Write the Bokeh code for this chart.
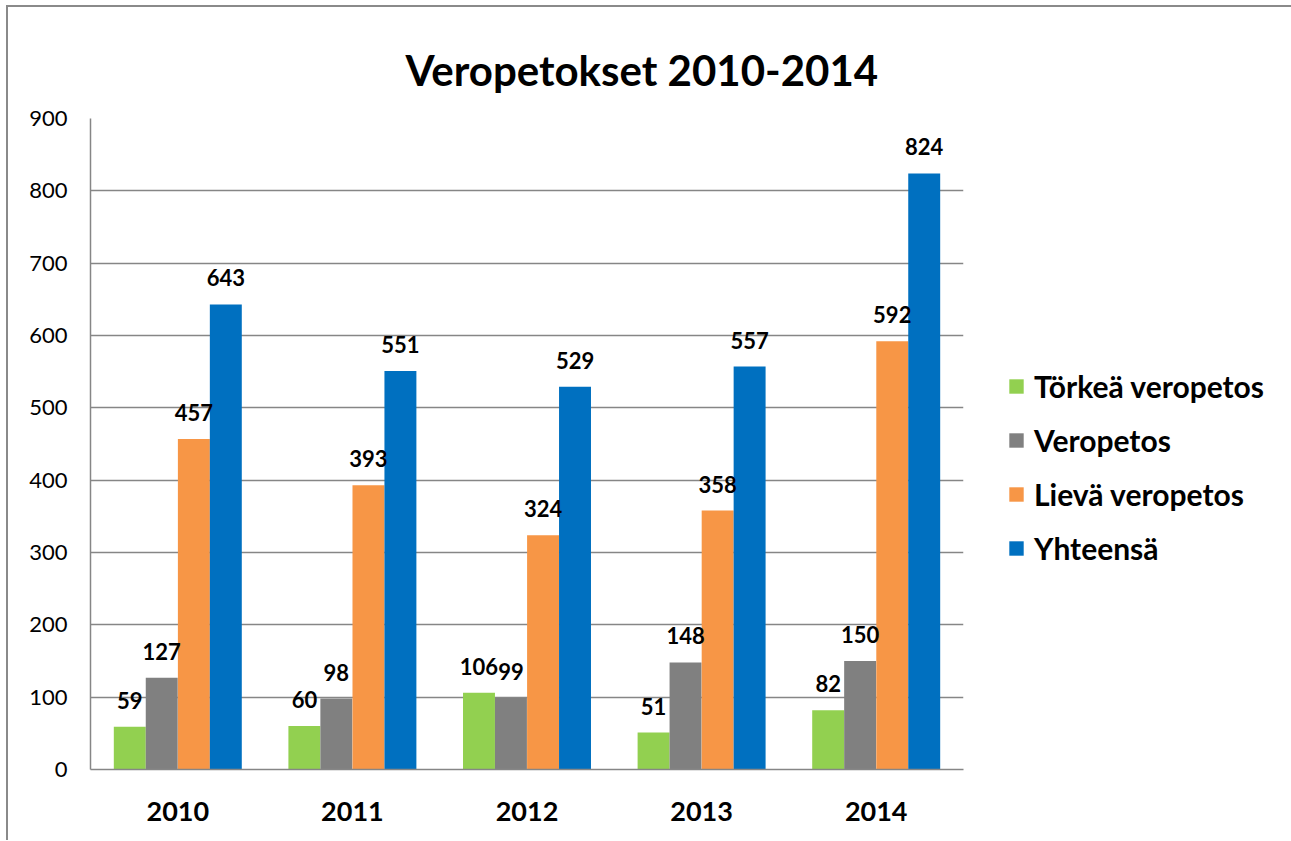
from bokeh.plotting import figure
from bokeh.models import FactorRange, ColumnDataSource, LabelSet, Legend, LegendItem, Title, SingleIntervalTicker
from bokeh.transform import dodge
from bokeh.core.properties import value
from bokeh.embed import file_html
from bokeh.resources import INLINE

years = ["2010", "2011", "2012", "2013", "2014"]
torkea = [59, 60, 106, 51, 82]
veropetos = [127, 98, 99, 148, 150]
lieva = [457, 393, 324, 358, 592]
yhteensa = [643, 551, 529, 557, 824]
series_names = ["Törkeä veropetos", "Veropetos", "Lievä veropetos", "Yhteensä"]
colors = ["#92D050", "#808080", "#F79646", "#0070C0"]
title_text = "Veropetokset 2010-2014"

FONT = "Lato"

src = ColumnDataSource(dict(years=years, s0=torkea, s1=veropetos, s2=lieva, s3=yhteensa,
                            l0=[str(v) for v in torkea], l1=[str(v) for v in veropetos],
                            l2=[str(v) for v in lieva], l3=[str(v) for v in yhteensa]))

p = figure(x_range=FactorRange(factors=years, range_padding=0), y_range=(0, 900),
           frame_width=873, frame_height=651, output_backend="svg", toolbar_location=None,
           min_border_left=82, min_border_right=328, min_border_top=0, min_border_bottom=71)
p.styles = {"margin-left": "6px", "margin-top": "5px",
            "border-left": "2px solid #8a8a8a", "border-top": "2px solid #8a8a8a"}
p.outline_line_color = None
p.background_fill_color = "white"

bw = 0.183
offs = [-0.275, -0.092, 0.092, 0.275]
items = []
for i in range(4):
    r = p.vbar(x=dodge("years", offs[i], range=p.x_range), top="s%d" % i, width=bw,
               source=src, fill_color=colors[i], line_color=None)
    items.append(LegendItem(label=series_names[i], renderers=[r]))
    lbl = LabelSet(x=dodge("years", offs[i], range=p.x_range), y="s%d" % i, text="l%d" % i,
                   source=src, text_align="center", text_baseline="alphabetic", y_offset=18,
                   text_font=value(FONT), text_font_style="bold", text_font_size="22px",
                   text_color="black")
    p.add_layout(lbl)

title = Title(text=title_text, align="left", offset=315, text_font=FONT,
              text_font_size="42px", text_font_style="bold", text_color="black",
              standoff=47)
try:
    title.padding = dict(left=0, right=0, top=12, bottom=0)
except Exception:
    title.standoff = 59
p.add_layout(title, "above")

p.yaxis.ticker = SingleIntervalTicker(interval=100)
p.yaxis.axis_line_color = "#868686"
p.yaxis.axis_line_width = 1.5
p.yaxis.major_tick_line_color = None
p.yaxis.minor_tick_line_color = None
p.yaxis.major_label_text_font = FONT
p.yaxis.major_label_text_font_size = "22px"
p.yaxis.major_label_text_color = "black"
p.yaxis.major_label_standoff = 17

p.xaxis.axis_line_color = "#868686"
p.xaxis.axis_line_width = 1.5
p.xaxis.major_tick_line_color = None
p.xaxis.minor_tick_line_color = None
p.xaxis.major_label_text_font = FONT
p.xaxis.major_label_text_font_size = "27px"
p.xaxis.major_label_text_font_style = "bold"
p.xaxis.major_label_text_color = "black"
p.xaxis.major_label_standoff = 26

p.xgrid.grid_line_color = None
p.ygrid.grid_line_color = "#868686"
p.ygrid.grid_line_width = 1.5

legend = Legend(items=items, location=(44, 203), border_line_color=None,
                background_fill_alpha=0, label_text_font=FONT, label_text_font_style="bold",
                label_text_font_size="30px", label_text_color="black",
                glyph_width=18, glyph_height=18, label_height=36, spacing=18,
                label_standoff=9, margin=0, padding=0)
p.add_layout(legend, "right")

open("out.html", "w").write(file_html(p, INLINE))
